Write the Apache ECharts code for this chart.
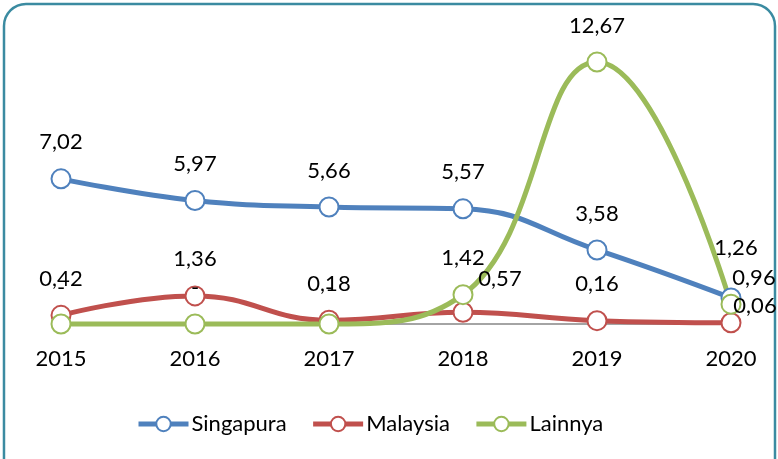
<!DOCTYPE html>
<html>
<head>
<meta charset="utf-8">
<script src="https://cdn.jsdelivr.net/npm/echarts@6/dist/echarts.min.js"></script>
<style>
  html, body { margin: 0; padding: 0; background: #fff; }
  #chart { width: 778px; height: 459px; }
</style>
</head>
<body>
<div id="chart"></div>
<script>
// data
const years = ['2015', '2016', '2017', '2018', '2019', '2020'];
const singapura = [7.02, 5.97, 5.66, 5.57, 3.58, 1.26];
const malaysia = [0.42, 1.36, 0.18, 0.57, 0.16, 0.06];
const lainnya = [0, 0, 0, 1.42, 12.67, 0.96];

const FONT = 'Lato';
const fmt = (v) => (v === 0 ? '-' : v.toFixed(2).replace('.', ','));

// a few labels are nudged sideways, as in the source
const nudge = {
  Singapura: { 5: [5, -14] },
  Malaysia: { 3: [37, 3], 5: [24, 20] },
  Lainnya: { 5: [23, 10] },
};

function lineSeries(name, values, color) {
  return {
    name, type: 'line', smooth: 0.45, clip: false,
    symbol: 'emptyCircle', symbolSize: 19, showAllSymbol: true,
    lineStyle: { color, width: 5 },
    itemStyle: { color, borderColor: color, borderWidth: 2 },
    label: {
      show: true, position: 'top', distance: 15, color: '#000',
      fontFamily: FONT, fontSize: 22, formatter: (p) => fmt(p.value),
    },
    data: values.map((v, i) => {
      const off = nudge[name] && nudge[name][i];
      return off ? { value: v, label: { offset: off } } : v;
    }),
  };
}

const chart = echarts.init(document.getElementById('chart'), null, { renderer: 'canvas' });
chart.setOption({
  animation: false,
  textStyle: { fontFamily: FONT },
  grid: { left: 61, right: 47, top: 34.5, bottom: 135, containLabel: false },
  xAxis: {
    type: 'category', data: years, boundaryGap: false,
    axisLine: { lineStyle: { color: '#868686', width: 1.5 } },
    axisTick: { show: false },
    axisLabel: { color: '#000', fontFamily: FONT, fontSize: 22, margin: 24 },
  },
  yAxis: { type: 'value', min: 0, max: 14, show: false, splitLine: { show: false } },
  legend: {
    left: 131, top: 408, itemWidth: 50, itemHeight: 18, itemGap: 24,
    lineStyle: { width: 5 },
    textStyle: { color: '#000', fontFamily: FONT, fontSize: 22, padding: [0, 0, 0, -2] },
    data: ['Singapura', 'Malaysia', 'Lainnya'],
  },
  graphic: [{
    type: 'rect', silent: true, z: -1,
    shape: { x: 4, y: 4, width: 771, height: 490, r: 22 },
    style: { fill: 'none', stroke: '#3b8ba1', lineWidth: 2.5 },
  }],
  series: [
    lineSeries('Singapura', singapura, '#4f81bd'),
    lineSeries('Malaysia', malaysia, '#c0504d'),
    lineSeries('Lainnya', lainnya, '#9bbb59'),
  ],
});
</script>
</body>
</html>
